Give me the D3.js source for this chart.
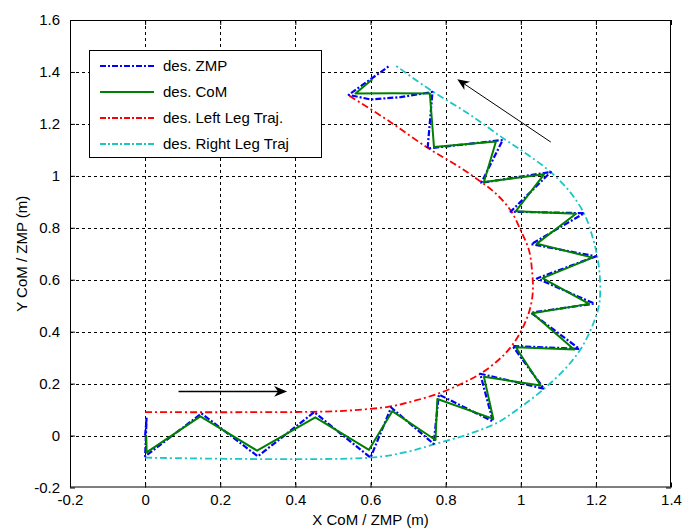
<!DOCTYPE html>
<html>
<head>
<meta charset="utf-8">
<script src="https://cdn.jsdelivr.net/npm/d3@7"></script>
<style>
  html, body { margin: 0; padding: 0; background: #ffffff; }
  svg { display: block; font-family: "Liberation Sans", Arial, sans-serif; }
</style>
</head>
<body>
<svg id="chart" width="684" height="530"></svg>
<script>
// ---------------- data ----------------
const xTicks = [-0.2, 0, 0.2, 0.4, 0.6, 0.8, 1, 1.2, 1.4];
const yTicks = [-0.2, 0, 0.2, 0.4, 0.6, 0.8, 1, 1.2, 1.4, 1.6];
const xTickLabels = ["-0.2", "0", "0.2", "0.4", "0.6", "0.8", "1", "1.2", "1.4"];
const yTickLabels = ["-0.2", "0", "0.2", "0.4", "0.6", "0.8", "1", "1.2", "1.4", "1.6"];

const seriesNames = ["des. ZMP", "des. CoM", "des. Left Leg Traj.", "des. Right Leg Traj"];

const zmp = [
  [0, 0], [0.004, 0.07], [0.0, -0.08], [0.15, 0.085], [0.3, -0.08], [0.45, 0.09],
  [0.6, -0.085], [0.655, 0.108], [0.768, -0.032], [0.782, 0.158], [0.926, 0.054],
  [0.892, 0.238], [1.062, 0.18], [0.978, 0.345], [1.156, 0.334], [1.027, 0.473],
  [1.196, 0.508], [1.043, 0.605], [1.2, 0.69], [1.028, 0.737], [1.169, 0.856],
  [0.973, 0.862], [1.08, 1.015], [0.895, 0.973], [0.952, 1.138], [0.752, 1.105],
  [0.765, 1.323], [0.68, 1.303], [0.6, 1.294], [0.542, 1.312], [0.649, 1.422]
];

const com = [
  [0.003, 0.0], [0.004, -0.065], [0.147, 0.074], [0.298, -0.058], [0.453, 0.07],
  [0.596, -0.055], [0.658, 0.094], [0.773, -0.017], [0.778, 0.141], [0.927, 0.064],
  [0.902, 0.226], [1.053, 0.193], [0.987, 0.34], [1.142, 0.331], [1.031, 0.471],
  [1.182, 0.507], [1.058, 0.606], [1.191, 0.685], [1.043, 0.739], [1.147, 0.854],
  [0.987, 0.864], [1.062, 1.006], [0.902, 0.976], [0.934, 1.132], [0.769, 1.111],
  [0.758, 1.317], [0.66, 1.318], [0.56, 1.317], [0.605, 1.372]
];

const leftLeg = [
  [0, 0.09], [0.3, 0.09], [0.467, 0.092], [0.55, 0.097], [0.653, 0.112], [0.72, 0.135],
  [0.787, 0.165], [0.85, 0.205], [0.893, 0.238], [0.94, 0.29], [0.973, 0.34], [1.0, 0.4],
  [1.022, 0.475], [1.032, 0.55], [1.03, 0.636], [1.022, 0.713], [1.0, 0.79], [0.973, 0.867],
  [0.935, 0.93], [0.889, 0.982], [0.83, 1.04], [0.755, 1.105], [0.65, 1.21], [0.542, 1.31]
];

const rightLeg = [
  [0, -0.085], [0.6, -0.085], [0.7, -0.062], [0.778, -0.03], [0.86, 0.005], [0.938, 0.05],
  [1.0, 0.11], [1.062, 0.18], [1.12, 0.26], [1.16, 0.334], [1.19, 0.42], [1.209, 0.507],
  [1.211, 0.6], [1.204, 0.687], [1.19, 0.77], [1.169, 0.854], [1.13, 0.94], [1.08, 1.014],
  [1.02, 1.08], [0.955, 1.143], [0.86, 1.24], [0.76, 1.33], [0.662, 1.43]
];

// arrows: [start, end] in data units
const arrowForward = [[0.089, 0.17], [0.378, 0.17]];
const arrowBack = [[1.08, 1.13], [0.831, 1.372]];

// ---------------- layout ----------------
const svg = d3.select("#chart");
const M = { left: 70, right: 671, top: 20, bottom: 487.5 };

const x = d3.scaleLinear().domain([-0.2, 1.4]).range([M.left, M.right]);
const y = d3.scaleLinear().domain([-0.2, 1.6]).range([M.bottom, M.top]);

const colors = { zmp: "#0000ff", com: "#008000", left: "#ff0000", right: "#1cc6c6" };

svg.append("rect").attr("x", 0).attr("y", 0).attr("width", 684).attr("height", 530).attr("fill", "#ffffff");
svg.append("rect").attr("x", M.left).attr("y", M.top)
  .attr("width", M.right - M.left).attr("height", M.bottom - M.top).attr("fill", "#ffffff");

// grid
const grid = svg.append("g");
grid.selectAll(".gx").data(xTicks.slice(1, -1)).enter().append("line")
  .attr("x1", d => Math.round(x(d)) + 0.5).attr("x2", d => Math.round(x(d)) + 0.5)
  .attr("y1", M.top).attr("y2", M.bottom)
  .attr("stroke", "#000").attr("stroke-width", 1).attr("stroke-dasharray", "3,3");
grid.selectAll(".gy").data(yTicks.slice(1, -1)).enter().append("line")
  .attr("y1", d => Math.round(y(d)) + 0.5).attr("y2", d => Math.round(y(d)) + 0.5)
  .attr("x1", M.left).attr("x2", M.right)
  .attr("stroke", "#000").attr("stroke-width", 1).attr("stroke-dasharray", "3,3");

// axes with inward ticks
const xAxis = d3.axisBottom(x).tickValues(xTicks).tickSize(-5).tickPadding(7)
  .tickFormat((d, i) => xTickLabels[i]);
const yAxis = d3.axisLeft(y).tickValues(yTicks).tickSize(-5).tickPadding(10)
  .tickFormat((d, i) => yTickLabels[i]);
const xTop = d3.axisTop(x).tickValues(xTicks).tickSize(-5).tickFormat("");
const yRight = d3.axisRight(y).tickValues(yTicks).tickSize(-5).tickFormat("");

function styleAxis(g) {
  g.select(".domain").remove();
  g.selectAll("line").attr("stroke", "#000");
  g.selectAll("text").attr("fill", "#000").attr("font-size", 15)
    .attr("font-family", "Liberation Sans, Arial, sans-serif");
}
svg.append("g").attr("transform", `translate(0,${M.bottom})`).call(xAxis).call(styleAxis);
svg.append("g").attr("transform", `translate(${M.left},0)`).call(yAxis).call(styleAxis);
svg.append("g").attr("transform", `translate(0,${M.top})`).call(xTop).call(styleAxis);
svg.append("g").attr("transform", `translate(${M.right},0)`).call(yRight).call(styleAxis);

// frame
svg.append("rect").attr("x", M.left + 0.5).attr("y", M.top + 0.5)
  .attr("width", M.right - M.left - 1).attr("height", M.bottom - M.top - 1)
  .attr("fill", "none").attr("stroke", "#000").attr("stroke-width", 1);

// axis labels
svg.append("text").attr("x", (M.left + M.right) / 2).attr("y", 525)
  .attr("text-anchor", "middle").attr("font-size", 15).attr("fill", "#000")
  .text("X CoM / ZMP (m)");
svg.append("text").attr("transform", `translate(27,${(M.top + M.bottom) / 2}) rotate(-90)`)
  .attr("text-anchor", "middle").attr("font-size", 15).attr("fill", "#000")
  .text("Y CoM / ZMP (m)");

// series
const line = d3.line().x(d => x(d[0])).y(d => y(d[1]));
const smooth = d3.line().x(d => x(d[0])).y(d => y(d[1])).curve(d3.curveCatmullRom.alpha(0.5));

const plot = svg.append("g");
plot.append("path").datum(leftLeg).attr("d", smooth).attr("fill", "none")
  .attr("stroke", colors.left).attr("stroke-width", 1.8).attr("stroke-dasharray", "7,3,2,3");
plot.append("path").datum(rightLeg).attr("d", smooth).attr("fill", "none")
  .attr("stroke", colors.right).attr("stroke-width", 1.8).attr("stroke-dasharray", "7,3,2,3");
plot.append("path").datum(zmp).attr("d", line).attr("fill", "none")
  .attr("stroke", colors.zmp).attr("stroke-width", 2.2).attr("stroke-dasharray", "6,2,2,2")
  .attr("stroke-linejoin", "round");
plot.append("path").datum(com).attr("d", line).attr("fill", "none")
  .attr("stroke", colors.com).attr("stroke-width", 2).attr("stroke-linejoin", "round");

// arrows
function drawArrow(a, w, headLen) {
  const x1 = x(a[0][0]), y1 = y(a[0][1]), x2 = x(a[1][0]), y2 = y(a[1][1]);
  const ang = Math.atan2(y2 - y1, x2 - x1);
  svg.append("line").attr("x1", x1).attr("y1", y1)
    .attr("x2", x2 - Math.cos(ang) * headLen * 0.6).attr("y2", y2 - Math.sin(ang) * headLen * 0.6)
    .attr("stroke", "#000").attr("stroke-width", w);
  const hw = headLen * 0.42;
  const bx = x2 - Math.cos(ang) * headLen, by = y2 - Math.sin(ang) * headLen;
  const nx = -Math.sin(ang), ny = Math.cos(ang);
  const notchX = x2 - Math.cos(ang) * headLen * 0.7, notchY = y2 - Math.sin(ang) * headLen * 0.7;
  svg.append("path")
    .attr("d", `M${x2},${y2} L${bx + nx * hw},${by + ny * hw} L${notchX},${notchY} L${bx - nx * hw},${by - ny * hw} Z`)
    .attr("fill", "#000");
}
drawArrow(arrowForward, 1.5, 13);
drawArrow(arrowBack, 1, 12);

// legend
const lg = svg.append("g");
lg.append("rect").attr("x", 89.5).attr("y", 50.5).attr("width", 232).attr("height", 107)
  .attr("fill", "#fff").attr("stroke", "#000").attr("stroke-width", 1);
const legendItems = [
  { name: seriesNames[0], color: colors.zmp, dash: "6,2,2,2", w: 2.2 },
  { name: seriesNames[1], color: colors.com, dash: null, w: 2.2 },
  { name: seriesNames[2], color: colors.left, dash: "6,2,2,2", w: 1.8 },
  { name: seriesNames[3], color: colors.right, dash: "6,2,2,2", w: 1.8 }
];
const rowY = [66, 92, 118, 144];
legendItems.forEach((it, i) => {
  const l = lg.append("line").attr("x1", 100).attr("x2", 154)
    .attr("y1", rowY[i]).attr("y2", rowY[i])
    .attr("stroke", it.color).attr("stroke-width", it.w);
  if (it.dash) l.attr("stroke-dasharray", it.dash);
  lg.append("text").attr("x", 163).attr("y", rowY[i] + 5).attr("font-size", 15)
    .attr("fill", "#000").text(it.name);
});
</script>
</body>
</html>
